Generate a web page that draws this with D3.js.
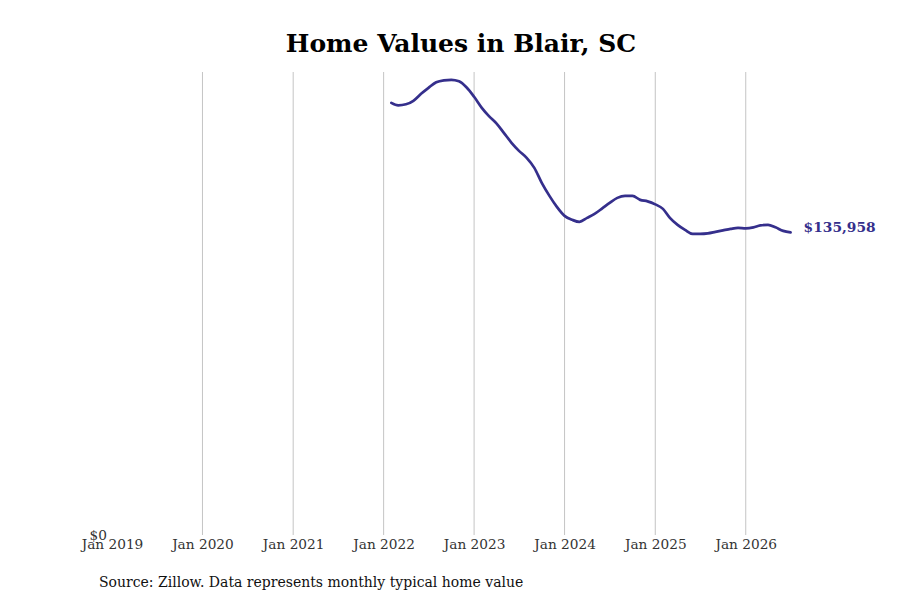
<!DOCTYPE html>
<html>
<head>
<meta charset="utf-8">
<script src="https://cdn.jsdelivr.net/npm/d3@7"></script>
<style>
  body { margin: 0; background: #fff; }
  svg { display: block; }
</style>
</head>
<body>
<svg id="chart" width="900" height="600"></svg>
<script>
const title = "Home Values in Blair, SC";
const source = "Source: Zillow. Data represents monthly typical home value";
const startMonth = "2022-02";
const values = [
  194157, 193034, 193483, 195056, 198202, 200899, 203371, 204270, 204494, 203820, 201124,
  196854, 191910, 188315, 184944, 180674, 176180, 172584, 169438, 164944, 158202, 152360, 147416,
  143371, 141573, 140674, 142472, 144270, 146742, 149213, 151461, 152360, 152360, 150562, 149888,
  148539, 146517, 142472, 139326, 137079, 135281, 135281, 135506, 136180, 136854, 137528, 137978,
  137753, 138202, 139101, 139326, 138202, 136629, 135958
];
const tickYears = [2019, 2020, 2021, 2022, 2023, 2024, 2025, 2026];
const gridYears = [2020, 2021, 2022, 2023, 2024, 2025, 2026];
const yTicks = [0];
const yMax = 208000;

(function () {
const parse = d3.timeParse("%Y-%m");
const t0 = parse(startMonth);
const data = values.map((v, i) => ({ date: d3.timeMonth.offset(t0, i), value: v }));

const svg = d3.select("#chart");
const mLeft = 112, mTop = 72, mBottom = 535;
const last = data[data.length - 1];

const x = d3.scaleTime()
  .domain([new Date(2019, 0, 1), last.date])
  .range([mLeft, 790.6]);
const y = d3.scaleLinear().domain([0, yMax]).range([mBottom, mTop]);

// gridlines
svg.append("g").selectAll("line").data(gridYears).join("line")
  .attr("x1", d => x(new Date(d, 0, 1))).attr("x2", d => x(new Date(d, 0, 1)))
  .attr("y1", mTop).attr("y2", mBottom)
  .attr("stroke", "#c4c4c4").attr("stroke-width", 1);

// x axis
const xAxis = d3.axisBottom(x)
  .tickValues(tickYears.map(yr => new Date(yr, 0, 1)))
  .tickFormat(d3.timeFormat("Jan %Y"))
  .tickSize(0).tickPadding(4);
const gx = svg.append("g").attr("transform", `translate(0,${mBottom})`).call(xAxis);
gx.select(".domain").remove();
gx.selectAll("text").attr("font-family", "DejaVu Serif").attr("font-size", 13.7).attr("fill", "#333");

// y axis
const yAxis = d3.axisLeft(y).tickValues(yTicks).tickFormat(d => "$" + d3.format(",")(d)).tickSize(0).tickPadding(5);
const gy = svg.append("g").attr("transform", `translate(${mLeft},0)`).call(yAxis);
gy.select(".domain").remove();
gy.selectAll("text").attr("font-family", "DejaVu Serif").attr("font-size", 13.7).attr("fill", "#333").attr("dy", "0.32em");

// line
const line = d3.line().x(d => x(d.date)).y(d => y(d.value)).curve(d3.curveMonotoneX);
svg.append("path").datum(data)
  .attr("d", line)
  .attr("fill", "none")
  .attr("stroke", "#352f8c")
  .attr("stroke-width", 2.7)
  .attr("stroke-linejoin", "round")
  .attr("stroke-linecap", "round");

// end label
svg.append("text")
  .attr("x", x(last.date) + 13).attr("y", y(last.value) - 5)
  .attr("dy", "0.35em")
  .attr("font-family", "DejaVu Serif").attr("font-weight", "bold").attr("font-size", 13.8)
  .attr("fill", "#352f8c")
  .text("$" + d3.format(",")(last.value));

// title
svg.append("text")
  .attr("x", 461).attr("y", 52)
  .attr("text-anchor", "middle")
  .attr("font-family", "DejaVu Serif").attr("font-weight", "bold").attr("font-size", 25)
  .attr("fill", "#000")
  .text(title);

// source
svg.append("text")
  .attr("x", 99).attr("y", 587)
  .attr("font-family", "DejaVu Serif").attr("font-size", 14)
  .attr("fill", "#111")
  .text(source);
})();
</script>
</body>
</html>
